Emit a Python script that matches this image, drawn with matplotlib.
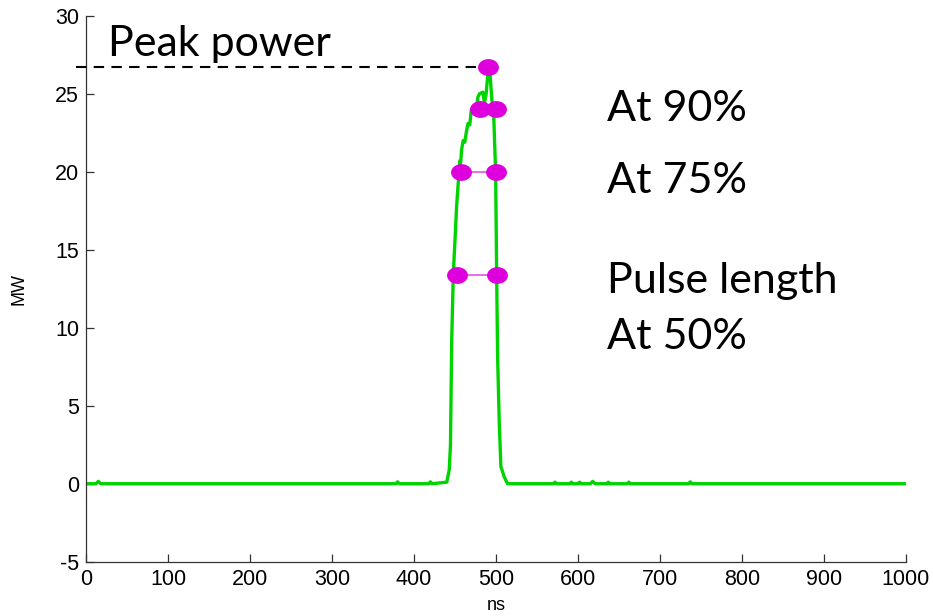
import numpy as np
import matplotlib
matplotlib.use("Agg")
import matplotlib.pyplot as plt
from matplotlib.path import Path

plt.rcParams["axes.unicode_minus"] = False

# pulse trace (ns, MW)
time_ns = [0, 12, 15, 18, 378, 380, 382, 418, 420, 422, 440, 443, 444.5, 446, 448,
           450, 452, 454, 456, 457, 458, 460, 462, 464, 466, 468, 470, 474, 476,
           478, 480, 484, 486, 488, 490, 492, 493, 495, 497, 499.6, 500.8, 502,
           504, 506, 510, 514, 570, 572, 574, 590, 592, 594, 600, 602, 604,
           615, 618, 621, 635, 637, 639, 660, 662, 664, 735, 737, 739, 1000]
power_mw = [0, 0, 0.15, 0, 0, 0.12, 0, 0, 0.12, 0, 0.1, 0.9, 2.5, 9.2, 13.5,
            15.6, 17.8, 19.3, 20.7, 20.6, 21.4, 22.0, 21.9, 22.6, 23.1, 23.0,
            24.0, 24.2, 23.9, 24.8, 25.0, 25.1, 24.4, 25.0, 26.2, 26.7, 26.1,
            24.6, 24.0, 19.9, 13.5, 8.1, 3.9, 1.1, 0.45, 0, 0, 0.1, 0, 0, 0.1,
            0, 0, 0.1, 0, 0, 0.15, 0, 0, 0.1, 0, 0, 0.1, 0, 0, 0.12, 0, 0]

peak_ns, peak_mw = 490.5, 26.7
# width markers: level, left edge, right edge
levels = [24.0, 20.0, 13.35]
left_ns = [480.5, 457.7, 452.8]
right_ns = [500.0, 499.6, 501.6]

green = "#00d400"
magenta = "#dd00dd"

fig = plt.figure(figsize=(9.33, 6.16), dpi=100)
ax = fig.add_axes([0.0922, 0.0881, 0.8788, 0.8864])

ax.plot(time_ns, power_mw, color=green, lw=2.4, zorder=2)

ax.plot([-12, peak_ns + 3], [peak_mw, peak_mw], color="black", lw=1.5,
        dashes=(5, 3.5), clip_on=False, zorder=3)

# elliptical marker
th = np.linspace(0, 2 * np.pi, 60)
ell = Path(np.column_stack([np.cos(th) * 1.0, np.sin(th) * 0.79]), closed=True)

for lv, l, r in zip(levels, left_ns, right_ns):
    ax.plot([l, r], [lv, lv], color="#e055e0", lw=1.2, zorder=3)
ax.plot(left_ns + right_ns + [peak_ns], levels + levels + [peak_mw], ls="none",
        marker=ell, ms=14, color=magenta, zorder=4)

ax.set_xlim(0, 1000)
ax.set_ylim(-5, 30)
ax.set_xticks(np.arange(0, 1001, 100))
ax.set_yticks(np.arange(-5, 31, 5))

for s in ["top", "right"]:
    ax.spines[s].set_visible(False)
for s in ["left", "bottom"]:
    ax.spines[s].set_color("#333333")
    ax.spines[s].set_linewidth(0.9)

ax.tick_params(direction="in", length=6, width=0.9, color="#333333",
               labelsize=15.5, pad=5)
for lab in ax.get_xticklabels() + ax.get_yticklabels():
    lab.set_family("Liberation Sans")

ax.set_xlabel("ns", fontsize=13, family="Liberation Sans", labelpad=5)
ax.set_ylabel("MW", fontsize=13, family="Liberation Sans", labelpad=20)

big = dict(fontsize=31, family="Lato", va="center", ha="left")
ax.text(26.8, 28.2, "Peak power", **big)
ax.text(635, 24.0, "At 90%", **big)
ax.text(635, 19.4, "At 75%", **big)
ax.text(635, 13.0, "Pulse length", **big)
ax.text(635, 9.4, "At 50%", **big)

fig.savefig("out.png", dpi=100)
